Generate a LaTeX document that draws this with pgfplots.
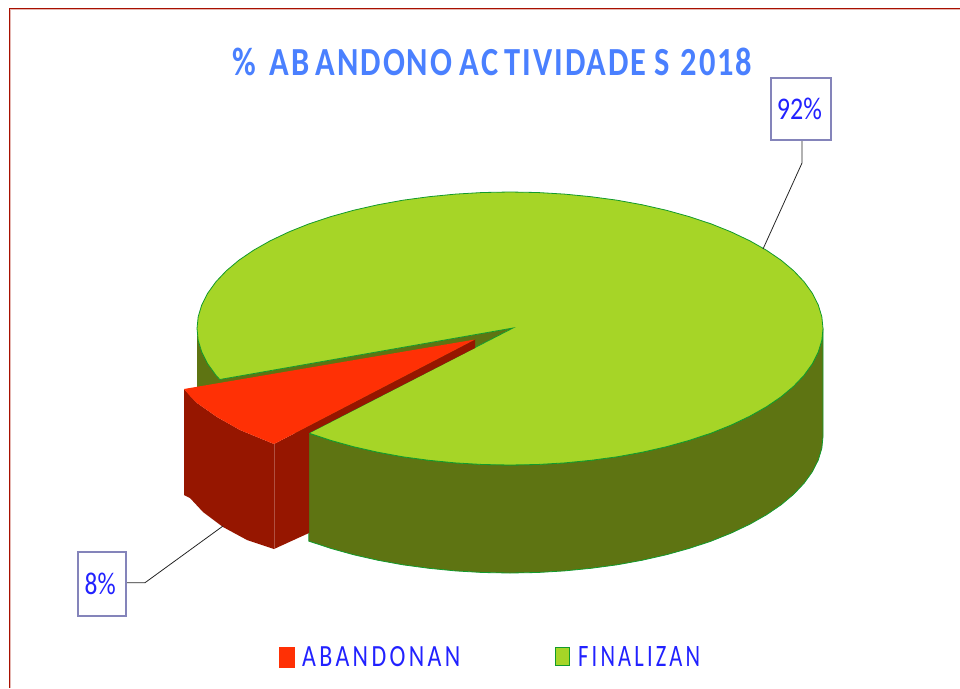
\documentclass[border=0pt]{standalone}
\usepackage{fontspec}
\usepackage{pgfplots}
\pgfplotsset{compat=1.18}
\setmainfont{Carlito}
\newfontfamily\spaced[LetterSpace=14]{Carlito}
\newfontfamily\spacedb[LetterSpace=6]{Carlito}
\definecolor{topg}{HTML}{A6D527}
\definecolor{sideg}{HTML}{5E7412}
\definecolor{edgeg}{HTML}{129A2C}
\definecolor{topr}{HTML}{FF3005}
\definecolor{sider}{HTML}{961600}
\definecolor{frame}{HTML}{A81000}
\definecolor{titleb}{HTML}{4A80FF}
\definecolor{textb}{HTML}{2222FF}
\definecolor{boxb}{HTML}{8484BA}
\begin{document}
\begin{tikzpicture}
\useasboundingbox (0,0) rectangle (960pt,688pt);
\begin{axis}[
  at={(0,0)}, anchor=south west,
  width=960pt, height=688pt, scale only axis,
  xmin=0, xmax=960, ymin=0, ymax=688, y dir=reverse,
  hide axis, no markers, clip=true]
% frame
\addplot[draw=frame!30, line width=1pt] coordinates {(10.8,688) (10.8,9.8) (960,9.8)};
\addplot[draw=frame, line width=1.2pt] coordinates {(9.7,688) (9.7,8.6) (960,8.6)};
% dark side seen on the left of the gap and inside the gap
\addplot[fill=sideg, draw=none] coordinates {(197,328.5) (198.2,340.4) (201.8,352.2) (207.7,363.8) (215.9,375.2) (219.8,379.5) (220,392) (197,394)} --cycle;
\addplot[fill=sideg, draw=none] coordinates {(513,328) (219.8,379.5) (220,392) (309,441) (308.8,433.1)} --cycle;
% FINALIZAN outer side
\addplot[fill=sideg, draw=edgeg, line width=0.8pt] coordinates {(308.8,433.1) (330.5,440.3) (353.5,446.7) (377.7,452.2) (402.9,456.8) (429,460.3) (455.6,462.9) (482.7,464.5) (510,465) (537.3,464.5) (564.4,462.9) (591,460.3) (617.1,456.8) (642.3,452.2) (666.5,446.7) (689.5,440.3) (711.2,433.1) (731.3,425) (749.8,416.2) (766.4,406.8) (781.1,396.8) (793.7,386.2) (804.1,375.2) (812.3,363.8) (818.2,352.2) (821.8,340.4) (823,328.5)
 (823,436.5) (821.8,448.4) (818.2,460.2) (812.3,471.8) (804.1,483.2) (793.7,494.2) (781.1,504.8) (766.4,514.8) (749.8,524.2) (731.3,533) (711.2,541.1) (689.5,548.3) (666.5,554.7) (642.3,560.2) (617.1,564.8) (591,568.3) (564.4,570.9) (537.3,572.5) (510,573) (482.7,572.5) (455.6,570.9) (429,568.3) (402.9,564.8) (377.7,560.2) (353.5,554.7) (330.5,548.3) (308.8,541.1)} --cycle;
% FINALIZAN top
\addplot[fill=topg, draw=edgeg, line width=0.8pt] coordinates {(513,328) (308.8,433.1) (330.5,440.3) (353.5,446.7) (377.7,452.2) (402.9,456.8) (429,460.3) (455.6,462.9) (482.7,464.5) (510,465) (537.3,464.5) (564.4,462.9) (591,460.3) (617.1,456.8) (642.3,452.2) (666.5,446.7) (689.5,440.3) (711.2,433.1) (731.3,425) (749.8,416.2) (766.4,406.8) (781.1,396.8) (793.7,386.2) (804.1,375.2) (812.3,363.8) (818.2,352.2) (821.8,340.4) (823,328.5)
 (821.8,316.6) (818.2,304.8) (812.3,293.2) (804.1,281.8) (793.7,270.8) (781.1,260.2) (766.4,250.2) (749.8,240.8) (731.3,232) (711.2,223.9) (689.5,216.7) (666.5,210.3) (642.3,204.8) (617.1,200.2) (591,196.7) (564.4,194.1) (537.3,192.5) (510,192) (482.7,192.5) (455.6,194.1) (429,196.7) (402.9,200.2) (377.7,204.8) (353.5,210.3) (330.5,216.7) (308.8,223.9) (288.7,232) (270.2,240.8) (253.6,250.2) (238.9,260.2) (226.3,270.8) (215.9,281.8) (207.7,293.2) (201.8,304.8) (198.2,316.6) (197,328.5) (198.2,340.4) (201.8,352.2) (207.7,363.8) (215.9,375.2) (219.8,379.5)} --cycle;
% ABANDONAN: inner wall, outer side, top
\addplot[fill=sider, draw=none] coordinates {(475,339.5) (475,348) (309,433) (309,533) (274,549) (274,444)} --cycle;
\addplot[fill=sider, draw=none] coordinates {(184,389) (197,403) (217,417) (240,430) (274,444) (274,549) (247,540) (223,527) (203,512) (190,498) (184,495)} --cycle;
\addplot[fill=topr, draw=none] coordinates {(475,339.5) (184,389) (190,396) (197,403) (217,417) (240,430) (274,444)} --cycle;
\addplot[draw=sider!75!white, line width=0.4pt] coordinates {(274,444) (274,549)};
% leaders
\addplot[draw=black!85, line width=0.8pt] coordinates {(802,140) (802,163) (763,249)};
\addplot[draw=black!85, line width=0.8pt] coordinates {(126,582.7) (145,582.7) (223,526)};
% data label boxes
\addplot[fill=white, draw=boxb, line width=2pt] coordinates {(770.7,78.3) (831.3,78.3) (831.3,140.3) (770.7,140.3)} --cycle;
\addplot[fill=white, draw=boxb, line width=2pt] coordinates {(78.3,552.3) (125.7,552.3) (125.7,615.7) (78.3,615.7)} --cycle;
% legend swatches
\addplot[fill=topr, draw=none] coordinates {(279,647) (295,647) (295,667.7) (279,667.7)} --cycle;
\addplot[fill=topg, draw=edgeg, line width=0.8pt] coordinates {(555.3,647) (569.3,647) (569.3,665) (555.3,665)} --cycle;
% texts
\node[anchor=base west, inner sep=0pt, text=titleb] at (axis cs:232,75) {\resizebox{520pt}{27.5pt}{\spacedb\bfseries\%\kern.42em AB\kern.2em ANDONO\kern.24em AC\kern.2em TIVIDADE\kern.24em S\kern.34em 2018}};
\node[anchor=base west, inner sep=0pt, text=textb] at (axis cs:776.7,119.5) {\resizebox{45pt}{21.5pt}{92\%}};
\node[anchor=base west, inner sep=0pt, text=textb] at (axis cs:84.5,594.5) {\resizebox{31pt}{21.5pt}{8\%}};
\node[anchor=base west, inner sep=0pt, text=textb] at (axis cs:302,666) {\resizebox{158pt}{20pt}{\spaced ABANDONAN}};
\node[anchor=base west, inner sep=0pt, text=textb] at (axis cs:578,666) {\resizebox{122pt}{20pt}{\spaced FINALIZAN}};
\end{axis}
\end{tikzpicture}
\end{document}
